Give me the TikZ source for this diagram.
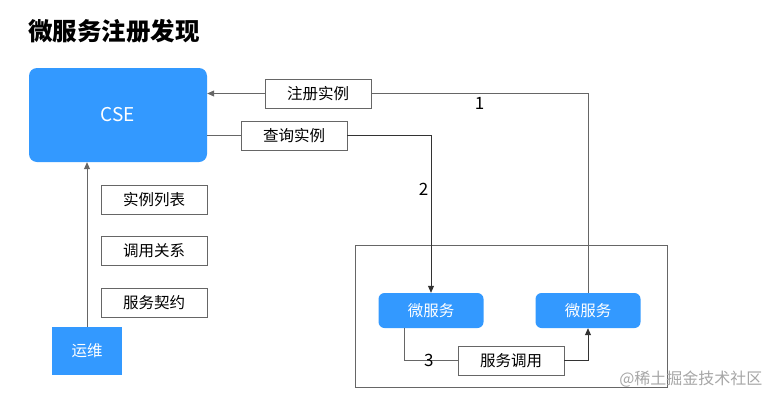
\documentclass[tikz,border=0pt]{standalone}
\usepackage{fontspec}
\setmainfont{Noto Sans CJK SC}
\usetikzlibrary{arrows.meta}
\begin{document}
\begin{tikzpicture}[x=1pt,y=-1pt,
  font=\fontsize{15.5}{18}\selectfont,
  svc/.style={fill=svcblue, text=white, rounded corners=6pt, minimum width=105pt, minimum height=35pt, inner sep=0pt},
  tag/.style={draw=black!60, fill=white, minimum width=106pt, minimum height=29pt, inner sep=0pt},
  link/.style={draw=black!60, line width=0.8pt},
  tip/.style={-{Triangle[length=7pt,width=6pt]}}]
\definecolor{svcblue}{HTML}{3399FF}
\useasboundingbox (0,0) rectangle (776,402);
% title
\node[anchor=west, font=\fontsize{24.5}{28}\selectfont\bfseries, inner sep=0pt] (title) at (28,31) {微服务注册发现};
% registry and ops
\node[svc, rounded corners=8pt, minimum width=178pt, minimum height=94pt, font=\fontsize{19}{22}\selectfont] (cse) at (118,115) {CSE};
\node[fill=svcblue, text=white, minimum width=70pt, minimum height=48pt, inner sep=0pt] (ops) at (87,351) {运维};
\node[tag] (list) at (154,199.5) {实例列表};
\node[tag] (rel) at (154,250.5) {调用关系};
\node[tag] (contract) at (154,302.5) {服务契约};
% services
\draw[black!60, line width=0.8pt] (355,245) rectangle (667,387);
\node[svc] (svcL) at (431,310.5) {微服务};
\node[svc] (svcR) at (588,310.5) {微服务};
\node[tag] (reg) at (318,93.5) {注册实例};
\node[tag] (qry) at (294,135.5) {查询实例};
\node[tag] (call) at (511,360.5) {服务调用};
% connectors
\draw[link,tip] (reg.west) -- (reg.west -| cse.east);
\draw[link] (reg.east) -| (svcR.north) node[pos=0.25, below=0pt, font=\fontsize{17}{20}\selectfont] {1};
\draw[link] (cse.east |- qry.west) -- (qry.west);
\draw[link, draw=black!80, tip] (qry.east) -| (svcL.north) node[pos=0.67, left=-1pt, font=\fontsize{17}{20}\selectfont] {2};
\draw[link,tip] (ops.north) -- (ops.north |- cse.south);
\draw[link] ([xshift=-27pt]svcL.south) |- (call.west) node[pos=0.73, font=\fontsize{17}{20}\selectfont] {3};
\draw[link, draw=black!80, tip] (call.east) -| (svcR.south);
% watermark
\node[anchor=east, text=black!35, font=\fontsize{16}{18}\selectfont] (mark) at (766,379) {@稀土掘金技术社区};
\end{tikzpicture}
\end{document}
